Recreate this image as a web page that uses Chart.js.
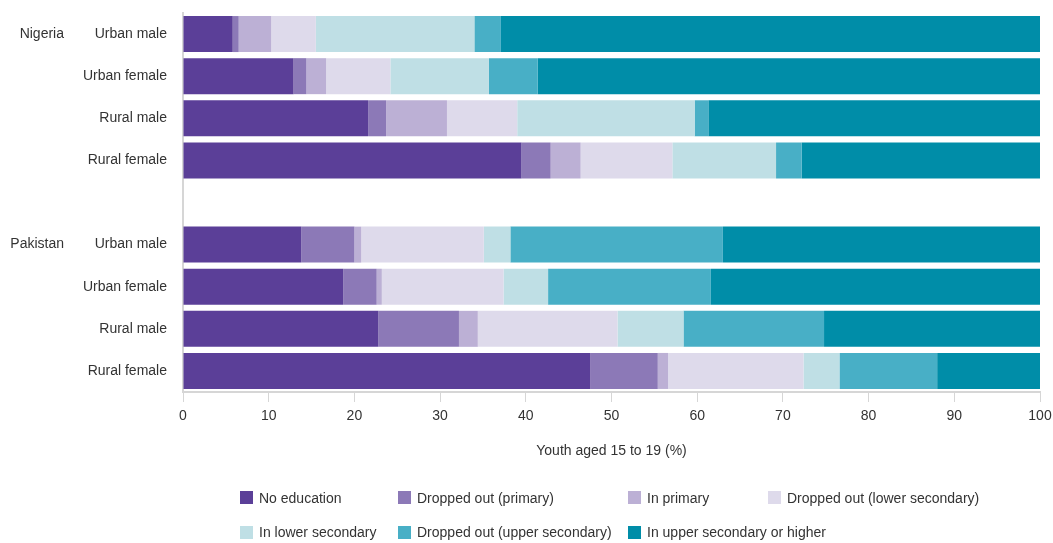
<!DOCTYPE html>
<html>
<head>
<meta charset="utf-8">
<script src="https://cdn.jsdelivr.net/npm/chart.js@4.4.1/dist/chart.umd.min.js"></script>
<style>
  body { margin: 0; background: #fff; }
  #wrap { position: relative; width: 1053px; height: 543px; }
  #legend { position: absolute; left: 0; top: 0; width: 1053px; height: 543px; pointer-events: none;
            font-family: 'Liberation Sans', Arial, sans-serif; font-size: 14px; color: #333; }
  .item { position: absolute; display: flex; align-items: center; white-space: nowrap; }
  .box { width: 13px; height: 13px; margin-right: 6px; }
</style>
</head>
<body>
<div id="wrap">
  <canvas id="myBarChart" width="1053" height="543"></canvas>
  <div id="legend"></div>
</div>
<script>
// rows of the chart, the empty one splits the two countries
const categories = ['Urban male', 'Urban female', 'Rural male', 'Rural female', '',
                    'Urban male', 'Urban female', 'Rural male', 'Rural female'];
const countries = ['Nigeria', 'Pakistan'];
const countryRows = [0, 5];

const seriesNames = ['No education', 'Dropped out (primary)', 'In primary', 'Dropped out (lower secondary)',
                     'In lower secondary', 'Dropped out (upper secondary)', 'In upper secondary or higher'];
const seriesColors = ['#5b3f98', '#8c79b7', '#bcb0d5', '#dedaeb', '#bfdfe5', '#48afc6', '#008da8'];

// % of youth aged 15 to 19
const noEducation     = [5.8, 12.9, 21.6, 39.5, null, 13.8, 18.7, 22.8, 47.5];
const droppedPrimary  = [0.7, 1.5, 2.1, 3.4, null, 6.2, 3.9, 9.4, 7.9];
const inPrimary       = [3.8, 2.3, 7.1, 3.5, null, 0.8, 0.6, 2.2, 1.2];
const droppedLowerSec = [5.2, 7.5, 8.2, 10.7, null, 14.3, 14.2, 16.3, 15.8];
const inLowerSec      = [18.5, 11.5, 20.7, 12.1, null, 3.1, 5.2, 7.7, 4.2];
const droppedUpperSec = [3.1, 5.7, 1.6, 3.0, null, 24.8, 19.0, 16.4, 11.4];
const inUpperSec      = [62.9, 58.6, 38.7, 27.8, null, 37.0, 38.4, 25.2, 12.0];

const seriesValues = [noEducation, droppedPrimary, inPrimary, droppedLowerSec, inLowerSec, droppedUpperSec, inUpperSec];

const xTicks = [0, 10, 20, 30, 40, 50, 60, 70, 80, 90, 100];

const FONT = "'Liberation Sans', Arial, sans-serif";
const TEXT = '#333333';
const AXIS = '#d6d6d6';

// draws Nigeria / Pakistan next to their first row
const countryLabels = {
    id: 'countryLabels',
    afterDraw(chart) {
        const ctx = chart.ctx;
        const yScale = chart.scales.y;
        ctx.save();
        ctx.font = '14px ' + FONT;
        ctx.fillStyle = TEXT;
        ctx.textAlign = 'right';
        ctx.textBaseline = 'middle';
        countries.forEach((name, i) => {
            ctx.fillText(name, 64, yScale.getPixelForValue(countryRows[i]));
        });
        ctx.restore();
    }
};

const datasets = seriesNames.map((name, i) => ({
    label: name,
    data: seriesValues[i],
    backgroundColor: seriesColors[i],
    borderWidth: 0,
    barPercentage: 0.855,
    categoryPercentage: 1.0
}));

const ctx = document.getElementById('myBarChart').getContext('2d');
const barChart = new Chart(ctx, {
    type: 'bar',
    data: { labels: categories, datasets: datasets },
    options: {
        indexAxis: 'y',
        responsive: false,
        animation: false,
        layout: { padding: { top: 13, right: 13, left: 0, bottom: 81 } },
        plugins: { legend: { display: false }, tooltip: { enabled: false } },
        scales: {
            x: {
                stacked: true,
                min: 0,
                max: 100,
                afterBuildTicks: scale => { scale.ticks = xTicks.map(v => ({ value: v })); },
                afterFit: scale => { scale.height = 70; },
                // long tick space for the labels, but only the first 9px drawn
                grid: { drawOnChartArea: false, drawTicks: true, tickLength: 16, tickBorderDash: [9, 40],
                        color: AXIS, lineWidth: 1 },
                border: { display: true, color: AXIS, width: 2 },
                ticks: { color: TEXT, font: { family: FONT, size: 14 }, padding: 0, maxRotation: 0 },
                title: {
                    display: true,
                    text: 'Youth aged 15 to 19 (%)',
                    color: TEXT,
                    font: { family: FONT, size: 14 },
                    padding: { top: 0, bottom: 2 }
                }
            },
            y: {
                stacked: true,
                afterFit: scale => { scale.width = 183; },
                grid: { display: true, drawOnChartArea: false, drawTicks: true, tickLength: 16,
                        color: 'rgba(0,0,0,0)' },
                border: { display: true, color: AXIS, width: 2 },
                ticks: { color: TEXT, font: { family: FONT, size: 14 }, padding: 0, autoSkip: false }
            }
        }
    },
    plugins: [countryLabels]
});

// legend laid out in columns like the original
const legendCols = [240, 398, 628, 768];
const legendRows = [497.5, 532];
const legend = document.getElementById('legend');
seriesNames.forEach((name, i) => {
    const row = i < 4 ? 0 : 1;
    const col = i < 4 ? i : i - 4;
    const item = document.createElement('div');
    item.className = 'item';
    item.style.left = legendCols[col] + 'px';
    item.style.top = (legendRows[row] - 9) + 'px';
    item.style.height = '18px';
    const box = document.createElement('span');
    box.className = 'box';
    box.style.background = seriesColors[i];
    const label = document.createElement('span');
    label.textContent = name;
    item.appendChild(box);
    item.appendChild(label);
    legend.appendChild(item);
});
</script>
</body>
</html>
